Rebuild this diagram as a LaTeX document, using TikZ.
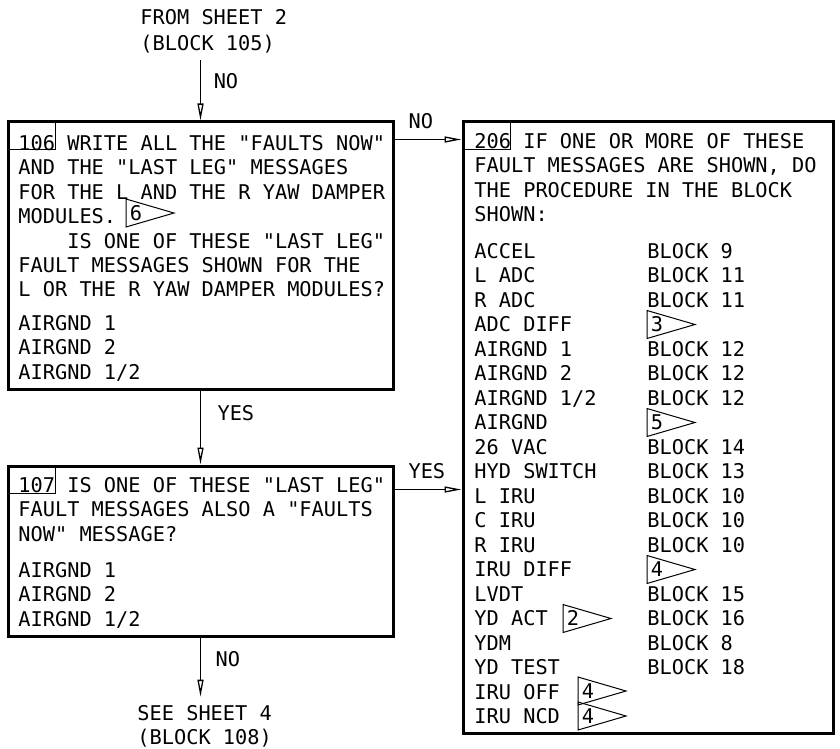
\documentclass[tikz,border=0pt]{standalone}
\usepackage{fontspec}
\setmonofont{DejaVu Sans Mono}
\usetikzlibrary{arrows.meta}

\begin{document}
\begin{tikzpicture}[x=0.5pt, y=-0.5pt, font=\ttfamily\fontsize{10.15}{12.2}\selectfont,
    >={Triangle[open, length=8.5pt, width=3pt]},
    box/.style={draw, line width=1.5pt, inner sep=0pt},
    numbox/.style={draw, line width=0.5pt, anchor=north west, minimum width=24pt, minimum height=14pt, inner sep=0pt},
    txt/.style={anchor=west, inner sep=0pt, text height=7.4pt, text depth=0pt},
    flagnum/.style={anchor=west, inner xsep=1.7pt, inner ysep=0pt, text height=7.4pt, text depth=0pt},
    term/.style={anchor=west, align=left, inner xsep=0pt, font=\ttfamily\fontsize{10.15}{13}\selectfont},
    link/.style={->, line width=0.65pt},
    lbl/.style={inner sep=0pt, text height=7.4pt, text depth=0pt}]
  \useasboundingbox (0,0) rectangle (840,749);

  \node[term, inner ysep=3.4pt] (from) at (140,31)  {FROM SHEET 2\\(BLOCK 105)};
  \node[term, inner ysep=4pt, font=\ttfamily\fontsize{10.15}{12}\selectfont] (see) at (137,726)
    {SEE SHEET 4\\(BLOCK 108)};

  % block 106
  \node[box, minimum width=192.5pt, minimum height=133.5pt] (b106) at (200.5,255.5) {};
  \node[numbox] (n106) at (b106.north west) {};
  \foreach \t [count=\i from 0] in {{106 WRITE ALL THE "FAULTS NOW"}, {AND THE "LAST LEG" MESSAGES},
      {FOR THE L AND THE R YAW DAMPER}, {MODULES.}, {\phantom{XXXX}IS ONE OF THESE "LAST LEG"},
      {FAULT MESSAGES SHOWN FOR THE}, {L OR THE R YAW DAMPER MODULES?}}
    \node[txt] (p106-\i) at (18,{143+24.4*\i}) {\t};
  \foreach \t [count=\i from 0] in {AIRGND 1, AIRGND 2, AIRGND 1/2}
    \node[txt] (m106-\i) at (18,{323+24.4*\i}) {\t};

  % block 107
  \node[box, minimum width=192.5pt, minimum height=85pt] (b107) at (200.5,551) {};
  \node[numbox] (n107) at (b107.north west) {};
  \foreach \t [count=\i from 0] in {{107 IS ONE OF THESE "LAST LEG"}, {FAULT MESSAGES ALSO A "FAULTS},
      {NOW" MESSAGE?}}
    \node[txt] (p107-\i) at (18,{485+24.4*\i}) {\t};
  \foreach \t [count=\i from 0] in {AIRGND 1, AIRGND 2, AIRGND 1/2}
    \node[txt] (m107-\i) at (18,{570+24.4*\i}) {\t};

  % block 206
  \node[box, minimum width=185pt, minimum height=305.5pt] (b206) at (648,427.5) {};
  \node[numbox] (n206) at (b206.north west) {};
  \foreach \t [count=\i from 0] in {{206 IF ONE OR MORE OF THESE}, {FAULT MESSAGES ARE SHOWN, DO},
      {THE PROCEDURE IN THE BLOCK}, {SHOWN:}}
    \node[txt] (p206-\i) at (474,{141+24.4*\i}) {\t};
  \foreach \t [count=\i from 0] in {ACCEL, L ADC, R ADC, ADC DIFF, AIRGND 1, AIRGND 2, AIRGND 1/2,
      AIRGND, 26 VAC, HYD SWITCH, L IRU, C IRU, R IRU, IRU DIFF, LVDT, YD ACT, YDM, YD TEST,
      IRU OFF, IRU NCD}
    \node[txt] (msg\i) at (474,{251+24.5*\i}) {\t};
  \foreach \t [count=\i from 0] in {BLOCK 9, BLOCK 11, BLOCK 11, {}, BLOCK 12, BLOCK 12, BLOCK 12,
      {}, BLOCK 14, BLOCK 13, BLOCK 10, BLOCK 10, BLOCK 10, {}, BLOCK 15, BLOCK 16, BLOCK 8,
      BLOCK 18}
    \node[txt] (blk\i) at (647,{251+24.5*\i}) {\t};

  % flag notes
  \foreach \fx/\fy/\fn/\fname in {126/213/6/flagA, 647/324.5/3/flagB, 647/422.5/5/flagC,
      647/569.5/4/flagD, 563/618.5/2/flagE, 578/691/4/flagF, 578/716/4/flagG} {
    \node[flagnum] (\fname) at (\fx,\fy) {\fn};
    \draw[line width=0.5pt] (\fname.west) ++(0,-14) -- ++(48,14) -- ++(-48,14) -- cycle;
  }

  \coordinate (no206)  at ([yshift=-9.5pt]b106.north east);
  \coordinate (yes206) at ([yshift=-12.5pt]b107.north east);

  \draw[link] (b106.north |- from.south) -- node[lbl, pos=0.355, right=6.3pt]{NO} (b106.north);
  \draw[link] (b106.south) -- node[lbl, pos=0.31, right=8.2pt]{YES} (b107.north);
  \draw[link] (b107.south) -- node[lbl, pos=0.36, right=7.2pt]{NO} (b107.south |- see.north);
  \draw[link] (no206) -- node[lbl, pos=0.2, anchor=south west, yshift=5.2pt]{NO} (no206 -| b206.west);
  \draw[link] (yes206) -- node[lbl, pos=0.2, anchor=south west, yshift=5.2pt]{YES} (yes206 -| b206.west);
\end{tikzpicture}
\end{document}
